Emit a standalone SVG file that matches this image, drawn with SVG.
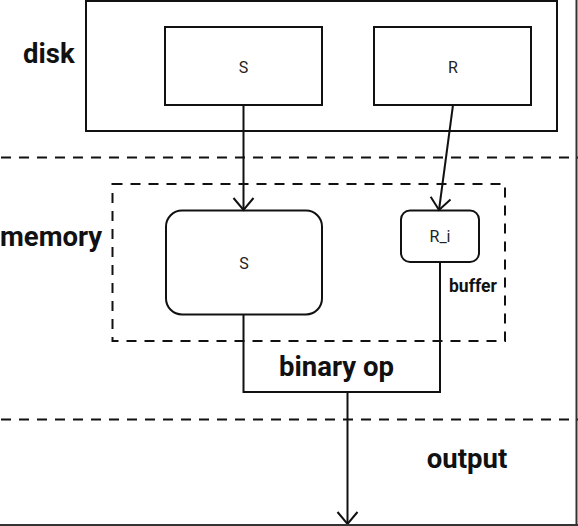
<svg xmlns="http://www.w3.org/2000/svg" width="578" height="526" viewBox="0 0 578 526">
<style>
.box{fill:#fff;stroke:#111;stroke-width:2}
.dash{fill:none;stroke:#111;stroke-width:2;stroke-dasharray:10 8}
.lbl{font-family:Roboto,"Liberation Sans",sans-serif;font-weight:bold;fill:#111;font-size:27.5px}
.t{font-family:Roboto,"Liberation Sans",sans-serif;font-size:16px;fill:#222;text-anchor:middle}
.conn{fill:none;stroke:#111;stroke-width:2}
</style>
<defs>
<marker id="arr" markerUnits="userSpaceOnUse" markerWidth="30" markerHeight="30" viewBox="-15 -15 30 30" refX="0" refY="0" orient="auto">
<path d="M-12,-10 L0,0 L-12,10" fill="none" stroke="#111" stroke-width="2"/>
</marker>
</defs>
<rect width="578" height="526" fill="#fff"/>
<g id="separators">
<line class="dash" x1="0" y1="157.5" x2="578" y2="157.5" stroke-dashoffset="-1"/>
<line class="dash" x1="0" y1="419.5" x2="578" y2="419.5" stroke-dashoffset="-1"/>
</g>
<g id="disk">
<rect class="box" x="86" y="1" width="471" height="130"/>
<text class="lbl" x="23" y="63">disk</text>
</g>
<g id="disk-S">
<rect class="box" x="165" y="27" width="157" height="78"/>
<text class="t" x="243.5" y="73">S</text>
</g>
<g id="disk-R">
<rect class="box" x="374" y="27" width="157" height="78"/>
<text class="t" x="453" y="73">R</text>
</g>
<g id="memory">
<rect class="dash" x="112.5" y="184" width="392.5" height="157"/>
<text class="lbl" x="0" y="246">memory</text>
</g>
<g id="mem-S">
<rect class="box" x="166" y="210.5" width="156" height="104" rx="16" ry="16"/>
<text class="t" x="244" y="269">S</text>
</g>
<g id="mem-Ri">
<rect class="box" x="401" y="210.5" width="78" height="51.5" rx="9" ry="9"/>
<text class="t" x="440" y="242">R_i</text>
<text class="lbl" x="449" y="292" style="font-size:17.5px">buffer</text>
</g>
<g id="binary-op">
<text class="lbl" x="336.5" y="376" text-anchor="middle">binary op</text>
</g>
<g id="output">
<text class="lbl" x="467" y="468" text-anchor="middle">output</text>
</g>
<g id="connectors">
<line class="conn" x1="243.5" y1="105" x2="243.5" y2="210" marker-end="url(#arr)"/>
<line class="conn" x1="453" y1="105" x2="439" y2="210" marker-end="url(#arr)"/>
<polyline class="conn" points="243.5,314.5 243.5,392 440,392 440,262"/>
<line class="conn" x1="347.5" y1="392" x2="347.5" y2="524" marker-end="url(#arr)"/>
</g>
<g id="frame">
<line x1="576.5" y1="0" x2="576.5" y2="526" stroke="#333" stroke-width="2"/>
<line x1="0" y1="525" x2="578" y2="525" stroke="#333" stroke-width="2"/>
</g>
</svg>
